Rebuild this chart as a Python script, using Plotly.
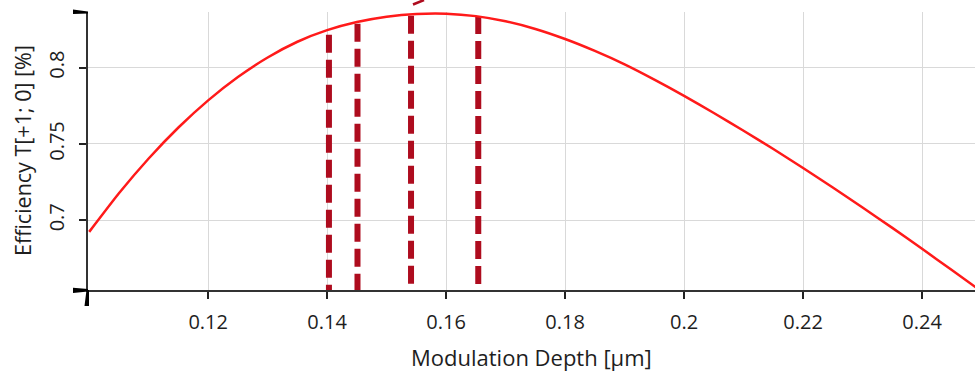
import plotly.graph_objects as go

# ---- data ----
depth_um = [0.100, 0.105, 0.110, 0.115, 0.120, 0.125, 0.130, 0.135, 0.140, 0.145,
            0.150, 0.155, 0.160, 0.165, 0.170, 0.175, 0.180, 0.185, 0.190, 0.195,
            0.200, 0.205, 0.210, 0.215, 0.220, 0.225, 0.230, 0.235, 0.240, 0.245, 0.250]
efficiency = [0.6924, 0.7177, 0.7405, 0.7608, 0.7786, 0.7939, 0.8067, 0.8170, 0.8246, 0.8299,
              0.8334, 0.8352, 0.8354, 0.8338, 0.8304, 0.8254, 0.8188, 0.8110, 0.8022, 0.7922,
              0.7815, 0.7703, 0.7587, 0.7467, 0.7343, 0.7215, 0.7084, 0.6950, 0.6813, 0.6674, 0.6534]

marker_depths = [0.1403, 0.1451, 0.1541, 0.1654]
marker_tops = [0.8216, 0.8288, 0.8340, 0.8338]

x_ticks = [0.12, 0.14, 0.16, 0.18, 0.20, 0.22, 0.24]
x_labels = ["0.12", "0.14", "0.16", "0.18", "0.2", "0.22", "0.24"]
y_ticks = [0.70, 0.75, 0.80]
y_labels = ["0.7", "0.75", "0.8"]

x_range = [0.0998, 0.2489]
y_range = [0.6543, 0.8365]

# ---- figure ----
W, H = 975, 374
L, R, T, B = 88, 0, 12, 84
pw, ph = W - L - R, H - T - B

FONT = "Open Sans"
TXT = "#1e1e1e"

fig = go.Figure()

for xd, yt in zip(marker_depths, marker_tops):
    fig.add_trace(go.Scatter(
        x=[xd, xd], y=[yt, y_range[0]], mode="lines",
        line=dict(color="#ae0c1e", width=6, dash="18px,7px"),
        hoverinfo="skip", showlegend=False))

fig.add_trace(go.Scatter(
    x=depth_um, y=efficiency, mode="lines",
    line=dict(color="#ff1a1a", width=2.5, shape="spline", smoothing=0.5),
    showlegend=False))


def px(xp, yp):
    return (xp - L) / pw, (H - B - yp) / ph


def path(points):
    pts = [px(a, b) for a, b in points]
    return "M " + " L ".join(f"{a:.5f},{b:.5f}" for a, b in pts) + " Z"


shapes = []
for poly in [
    [(73, 9.5), (84, 11.0), (88, 11.5), (88, 13.5), (73, 14)],
    [(73, 287.8), (88, 289), (88, 291.5), (73, 293)],
    [(86.5, 290), (89, 290), (89, 306), (84.5, 306)],
]:
    shapes.append(dict(type="path", xref="paper", yref="paper", path=path(poly),
                       fillcolor="black", line=dict(width=0), layer="above"))

a0 = px(413, 4.5)
a1 = px(424, 0)
shapes.append(dict(type="line", xref="paper", yref="paper",
                   x0=a0[0], y0=a0[1], x1=a1[0], y1=a1[1],
                   line=dict(color="#ae0c1e", width=2.5)))

fig.update_layout(
    width=W, height=H,
    margin=dict(l=L, r=R, t=T, b=B),
    paper_bgcolor="white", plot_bgcolor="white",
    font=dict(family=FONT, size=20, color=TXT),
    shapes=shapes,
    xaxis=dict(range=x_range, tickvals=x_ticks, ticktext=x_labels,
               showgrid=True, gridcolor="#d9d9d9", gridwidth=1,
               showline=True, linecolor="#333333", linewidth=1.5,
               ticks="outside", ticklen=7, tickwidth=2, tickcolor="#222222",
               zeroline=False, tickfont=dict(size=20, color=TXT),
               ticklabelstandoff=6),
    yaxis=dict(range=y_range, tickvals=y_ticks, ticktext=y_labels,
               showgrid=True, gridcolor="#d9d9d9", gridwidth=1,
               showline=True, linecolor="#333333", linewidth=1.5,
               ticks="outside", ticklen=7, tickwidth=2, tickcolor="#222222",
               zeroline=False, tickangle=-90, tickfont=dict(size=20, color=TXT),
               ticklabelstandoff=7),
    annotations=[
        dict(text="Modulation Depth [μm]", xref="paper", yref="paper", x=0.5, y=0,
             xanchor="center", yanchor="middle", yshift=-67, showarrow=False,
             font=dict(size=22, color=TXT)),
        dict(text="Efficiency T[+1; 0] [%]", xref="paper", yref="paper", x=0, y=0.5,
             xanchor="center", yanchor="middle", xshift=-66, textangle=-90,
             showarrow=False, font=dict(size=21.5, color=TXT)),
    ],
)

fig.write_html("out.html")
